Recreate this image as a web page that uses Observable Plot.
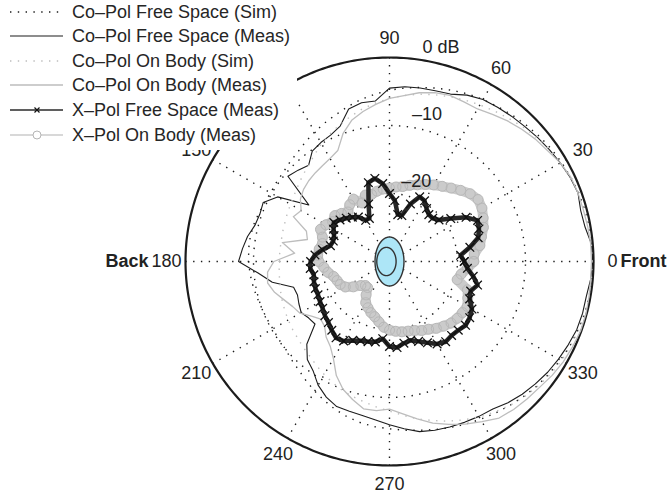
<!DOCTYPE html>
<html><head><meta charset="utf-8">
<script src="https://cdn.jsdelivr.net/npm/d3@7"></script>
<script src="https://cdn.jsdelivr.net/npm/@observablehq/plot@0.6"></script>
<style>
body{margin:0;background:#fff;font-family:"Liberation Sans",Arial,sans-serif;}
#wrap{position:relative;width:668px;height:497px;overflow:hidden}
#legend{position:absolute;left:0;top:0;width:297px;height:150px;background:#fff;}
.row{position:absolute;left:0;height:24px;width:297px;}
.row svg{position:absolute;left:0;top:0}
.row span{position:absolute;left:72px;top:0;line-height:24px;font-size:18px;color:#262626;white-space:nowrap}
</style></head><body><div id="wrap"><div id="chart"></div><div id="legend"></div></div>
<script>
// Angles (degrees) at which the patterns were read
const angles = [0,5,10,15,20,25,30,35,40,45,50,55,60,65,70,75,80,85,90,95,100,105,110,115,120,125,130,135,140,145,150,155,160,165,170,175,180,185,190,195,200,205,210,215,220,225,230,235,240,245,250,255,260,265,270,275,280,285,290,295,300,305,310,315,320,325,330,335,340,345,350,355];

const seriesNames = ["Co–Pol Free Space (Sim)","Co–Pol Free Space (Meas)","Co–Pol On Body (Sim)","Co–Pol On Body (Meas)","X–Pol Free Space (Meas)","X–Pol On Body (Meas)"];

const coFsSim = [0,-0.1,-0.2,-0.3,-0.4,-0.6,-0.8,-1.0,-1.3,-1.6,-1.9,-2.2,-2.5,-2.8,-3.2,-3.6,-4.0,-4.4,-4.8,-5.3,-5.8,-6.4,-7.0,-7.5,-8.0,-8.5,-9.0,-9.3,-9.6,-9.7,-9.8,-9.7,-9.5,-9.3,-9.2,-9.2,-9.3,-9.4,-9.6,-9.8,-10.0,-10.1,-10.2,-10.1,-10.0,-9.6,-9.2,-8.6,-8.0,-7.4,-6.8,-6.3,-5.9,-5.6,-5.4,-5.1,-4.8,-4.4,-4.0,-3.6,-3.2,-2.8,-2.4,-2.0,-1.6,-1.3,-1.0,-0.7,-0.5,-0.3,-0.2,-0.1];

const coFsMeas = [-0.1,-0.2,-0.8,-0.9,-0.5,-0.7,-1.0,-1.3,-1.6,-1.9,-2.1,-2.3,-2.5,-3.0,-3.8,-4.0,-4.1,-4.2,-4.5,-6.3,-6.3,-6.8,-8.8,-9.5,-9.8,-10.2,-11.5,-11.0,-10.5,-15.5,-11.0,-9.5,-9.7,-9.5,-8.8,-8.3,-7.8,-10.6,-12.5,-15.4,-15.6,-15.3,-15.0,-15.5,-15.7,-12.8,-11.2,-10.4,-9.0,-8.0,-7.3,-7.2,-7.0,-6.6,-6.0,-5.3,-4.6,-4.3,-4.1,-3.9,-3.7,-3.5,-2.9,-2.4,-2.0,-1.6,-1.3,-1.0,-0.7,-0.6,-0.6,-0.3];

const coObSim = [-0.2,-0.2,-0.3,-0.4,-0.5,-0.7,-1.0,-1.3,-1.7,-2.1,-2.6,-3.0,-3.4,-3.8,-4.2,-4.6,-5.0,-5.5,-6.0,-6.6,-7.2,-7.9,-8.6,-9.3,-10.0,-10.8,-11.5,-12.0,-12.5,-12.9,-13.2,-13.4,-13.6,-13.7,-13.8,-13.8,-13.8,-13.7,-13.6,-13.4,-13.2,-13.0,-12.8,-12.6,-12.4,-12.1,-11.8,-11.3,-10.8,-10.3,-9.8,-9.4,-9.0,-8.5,-8.0,-7.3,-6.5,-5.8,-5.0,-4.3,-3.6,-3.0,-2.4,-1.9,-1.5,-1.1,-0.8,-0.6,-0.4,-0.3,-0.2,-0.2];

const coObMeas = [-0.3,-0.3,-0.4,-0.5,-0.5,-0.6,-1.0,-1.6,-2.0,-2.5,-3.0,-3.6,-4.1,-4.1,-4.0,-4.3,-4.8,-5.5,-6.0,-6.8,-7.6,-8.5,-10.0,-12.0,-12.5,-12.8,-13.0,-13.2,-13.5,-14.0,-15.0,-14.4,-17.0,-17.5,-14.0,-16.0,-13.0,-12.0,-11.8,-12.5,-13.5,-14.3,-14.8,-16.0,-16.8,-16.5,-15.5,-14.8,-13.5,-11.5,-10.0,-9.0,-8.0,-8.0,-8.3,-7.5,-6.5,-5.4,-4.5,-3.6,-2.8,-1.9,-1.6,-1.4,-1.2,-0.8,-0.5,-0.3,-0.1,-0.1,-0.2,-0.3];

const xFsMeas = [-19.0,-19.5,-18.0,-16.5,-16.0,-15.7,-17.0,-19.0,-20.5,-21.0,-21.0,-20.5,-19.7,-19.5,-21.0,-23.0,-23.0,-21.0,-20.0,-18.5,-17.6,-18.0,-21.0,-23.0,-23.0,-22.0,-21.5,-21.0,-20.5,-20.0,-20.5,-21.0,-21.2,-21.0,-20.0,-19.0,-18.4,-18.3,-18.7,-18.5,-18.4,-18.4,-18.2,-18.0,-17.6,-17.3,-16.8,-16.3,-16.5,-17.2,-17.6,-17.8,-18.0,-18.6,-17.5,-17.3,-17.8,-18.0,-17.5,-16.8,-16.0,-15.6,-15.8,-15.7,-15.4,-15.6,-16.0,-17.0,-17.3,-16.6,-17.5,-18.5];

const xObMeas = [-17.6,-17.5,-16.5,-16.0,-15.3,-14.8,-14.3,-14.1,-14.5,-15.2,-15.9,-16.5,-17.0,-17.5,-18.0,-18.4,-18.8,-19.0,-19.2,-19.3,-19.5,-19.8,-19.6,-20.5,-19.4,-19.8,-20.5,-20.0,-19.5,-19.8,-19.2,-18.8,-19.5,-19.8,-19.5,-19.4,-19.6,-20.3,-20.8,-21.5,-21.8,-22.0,-22.5,-23.5,-24.5,-25.0,-25.0,-24.0,-23.0,-22.5,-22.0,-21.6,-21.0,-20.3,-19.9,-19.7,-19.5,-19.4,-19.2,-18.8,-18.5,-18.0,-17.6,-17.2,-17.0,-16.9,-16.8,-17.3,-17.8,-19.7,-19.3,-18.5];

// Axis ticks
const angleTicks = [0,30,60,90,120,150,180,210,240,270,300,330];
const ringTicks = [0,-10,-20];
const ringLabels = ["0 dB","–10","–20"];
const floorDb = -30;

// polar -> cartesian helpers (radius measured from the -30 dB floor)
const rad = d => d * Math.PI / 180;
function pol(deg, db){ const r = Math.max(0, db - floorDb); return {x: r*Math.cos(rad(deg)), y: r*Math.sin(rad(deg))}; }
function curve(vals){ const p = angles.map((a,i)=>pol(a, vals[i])); p.push(p[0]); return p; }

const circleSteps = d3.range(0, 361, 1);
const outer = circleSteps.map(a => pol(a, 0));
const rings = ringTicks.filter(v => v < 0).flatMap(v => circleSteps.map(a => ({...pol(a, v), ring: v})));
const spokes = angleTicks.map(a => ({...pol(a, 0)}));
const labelR = 2.8; // dB beyond the outer ring
const angleLabelData = angleTicks.map(a => ({...pol(a, labelR), text: String(a)}));
const ringLabelData = ringTicks.map((v,i) => ({...pol(81, v + 1.1), text: ringLabels[i]}));

// body phantom drawn at the centre
const ellipse = (cx, rx, ry) => circleSteps.map(a => ({x: cx + rx*Math.cos(rad(a)), y: ry*Math.sin(rad(a))}));

const black = "#1c1c1c", gray = "#bdbdbd", xgray = "#cbcbcb";
const dots = "1.4,6.4";

const chart = Plot.plot({
  width: 668, height: 497,
  x: {domain: [-30, 30], range: [185, 593], axis: null},
  y: {domain: [-30, 30], range: [465, 57], axis: null},
  style: {fontFamily: "'Liberation Sans', Arial, sans-serif", fontSize: "18px", background: "#fff", overflow: "visible"},
  marks: [
    Plot.line(rings, {x: "x", y: "y", z: "ring", stroke: black, strokeWidth: 1.4, strokeDasharray: dots, strokeLinecap: "butt"}),
    Plot.link(spokes, {x1: () => 0, y1: () => 0, x2: "x", y2: "y", stroke: black, strokeWidth: 1.4, strokeDasharray: dots, strokeLinecap: "butt"}),
    Plot.line(outer, {x: "x", y: "y", stroke: black, strokeWidth: 2.2}),
    Plot.line(curve(coFsSim), {x: "x", y: "y", stroke: black, strokeWidth: 1.4, strokeDasharray: dots, strokeLinecap: "butt"}),
    Plot.line(curve(coFsMeas), {x: "x", y: "y", stroke: black, strokeWidth: 1.1}),
    Plot.line(curve(coObSim), {x: "x", y: "y", stroke: gray, strokeWidth: 1.4, strokeDasharray: dots, strokeLinecap: "butt"}),
    Plot.line(curve(coObMeas), {x: "x", y: "y", stroke: gray, strokeWidth: 1.3}),
    Plot.line(curve(xObMeas), {x: "x", y: "y", stroke: xgray, strokeWidth: 10}),
    Plot.dot(curve(xObMeas), {x: "x", y: "y", r: 5, stroke: "#b8b8b8", fill: "none", strokeWidth: 1}),
    Plot.line(curve(xFsMeas), {x: "x", y: "y", stroke: "#262626", strokeWidth: 4.5}),
    Plot.dot(curve(xFsMeas), {x: "x", y: "y", symbol: "times", r: 4, stroke: "#111", strokeWidth: 1.3}),
    Plot.line(ellipse(0, 2.13, 3.6), {x: "x", y: "y", fill: "#ade6f7", stroke: "#333", strokeWidth: 1.4}),
    Plot.line(ellipse(-0.45, 1.42, 2.08), {x: "x", y: "y", fill: "none", stroke: "#333", strokeWidth: 1.4}),
    Plot.text(angleLabelData, {x: "x", y: "y", text: "text", fill: "#222", fontSize: 18}),
    Plot.text(angleLabelData.filter(d => d.text === "180"), {x: "x", y: "y", text: () => "Back", dx: -18, textAnchor: "end", fontWeight: "bold", fill: "#222", fontSize: 18}),
    Plot.text(angleLabelData.filter(d => d.text === "0"), {x: "x", y: "y", text: () => "Front", dx: 8, textAnchor: "start", fontWeight: "bold", fill: "#222", fontSize: 18}),
    Plot.text(ringLabelData, {x: "x", y: "y", text: "text", textAnchor: "start", lineAnchor: "bottom", fill: "#222", fontSize: 18})
  ]
});
document.getElementById("chart").appendChild(chart);

// Legend (drawn over the plot, top-left, white box)
const legendStyles = [
  {stroke: black, dash: dots, w: 1.4},
  {stroke: black, dash: null, w: 1.1},
  {stroke: gray, dash: dots, w: 1.4},
  {stroke: gray, dash: null, w: 1.3},
  {stroke: "#2a2a2a", dash: null, w: 1.3, marker: "x"},
  {stroke: xgray, dash: null, w: 1.3, marker: "o"}
];
const legend = d3.select("#legend");
seriesNames.forEach((name, i) => {
  const s = legendStyles[i];
  const row = legend.append("div").attr("class", "row").style("top", (i*24.6 - 0.5) + "px");
  const svg = row.append("svg").attr("width", 70).attr("height", 24);
  svg.append("line").attr("x1", 10).attr("x2", 63).attr("y1", 12).attr("y2", 12)
    .attr("stroke", s.stroke).attr("stroke-width", s.w).attr("stroke-dasharray", s.dash);
  if (s.marker === "x") svg.append("path").attr("d", "M34.5,9.5L39.5,14.5M39.5,9.5L34.5,14.5").attr("stroke", "#111").attr("stroke-width", 1.2);
  if (s.marker === "o") svg.append("circle").attr("cx", 37).attr("cy", 12).attr("r", 4).attr("fill", "#fff").attr("stroke", "#b5b5b5");
  row.append("span").text(name);
});
</script></body></html>
